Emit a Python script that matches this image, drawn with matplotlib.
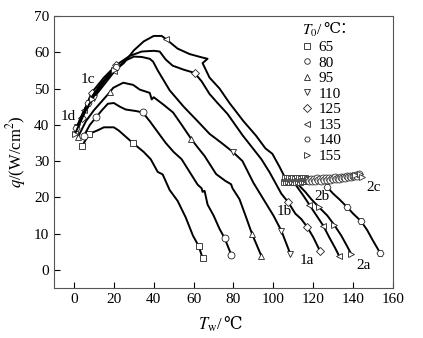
import numpy as np
import matplotlib
matplotlib.use('Agg')
import matplotlib.pyplot as plt

plt.rcParams['font.family'] = ['Liberation Serif', 'DejaVu Serif', 'Noto Sans CJK SC']
plt.rcParams['mathtext.fontset'] = 'stix'

# T0 = 65
x65 = [4, 7.7, 12, 15, 20, 22.5, 29.5, 35, 38.5, 42, 43.5, 44.5, 48, 52, 56, 59.7, 62.5, 64.5]
y65 = [34.1, 37.5, 38.5, 39.3, 39.3, 38.4, 35, 32.5, 30.5, 27, 26.6, 26.3, 22, 19, 14.5, 9.4, 6.6, 3.3]
m65 = [0, 1, 6, 16, 17]

# T0 = 80
x80 = [5, 8, 11.3, 14, 17, 20, 23, 26, 31, 34.5, 38, 42, 46, 50, 54, 58, 62, 64, 64.5, 65.5, 67, 70, 73, 75.5, 79]
y80 = [37, 40, 42.2, 44, 45.8, 46, 45, 44.2, 43.8, 43.4, 41, 38, 35, 32.5, 30.5, 27, 23.5, 22.5, 21.5, 21.8, 18, 15, 11.3, 8.8, 4]
m80 = [0, 2, 9, 23, 24]

# T0 = 95
x95 = [2, 6, 10, 14, 18, 19.7, 24.7, 29.7, 33, 38, 39, 40, 45, 49.7, 54, 58.8, 62, 65.5, 71.3, 76, 78.8, 79.5, 83, 86, 89.3, 94]
y95 = [36.6, 41, 44, 46.5, 49, 50.2, 51.6, 51, 49.7, 48.8, 47, 47.6, 45.5, 43.4, 40, 36.1, 33.8, 31.4, 26.4, 24.5, 23.6, 22.5, 19.5, 15, 9.9, 3.8]
m95 = [0, 4, 15, 24, 25]

# T0 = 110
x110 = [1.7, 5, 10, 15, 20, 25, 30, 34, 38, 39.7, 42, 48, 55, 62, 68, 74, 79.7, 84.5, 90, 95, 100, 104, 108.5]
y110 = [39.3, 43, 47.5, 51, 54.5, 57.5, 58.8, 58.7, 58.2, 57.4, 55, 49.5, 45, 41, 37.5, 35, 32.5, 30, 24, 19.5, 15, 10.8, 4.4]
m110 = [0, 2, 16, 21, 22]

# T0 = 125
x125 = [3.8, 8.8, 15, 21.3, 28, 34, 40, 43, 46, 49.5, 55, 60.5, 64, 68, 72, 77, 84.7, 89, 94, 98, 101, 104, 107.5, 111, 114, 117, 120, 123.3]
y125 = [42, 48.8, 53, 56.5, 59, 60.2, 60.4, 60.2, 58, 56.3, 55.2, 54.3, 52, 48.5, 46, 43, 37, 34, 30.5, 27, 24, 21, 18.6, 15.5, 14, 11.8, 9, 5.3]
m125 = [0, 1, 3, 11, 22, 25, 27]

# T0 = 135 (upper branch, runs into the plateau)
x135 = [0.5, 5, 10, 15, 20, 25, 30, 35, 40, 44, 46, 52, 58, 64, 67, 64.5, 68, 73, 78, 85, 91.3, 96, 99.5, 103, 105.5]
y135 = [38, 44, 48.5, 52, 54.8, 57, 60.5, 63, 64.5, 64.5, 63.7, 61, 59.5, 58.6, 58.2, 57, 53, 50, 46, 41, 37, 33.5, 32, 28.5, 25.8]
m135 = [0, 1, 4, 10]
# lower branch leaving the plateau
x135b = [111.5, 115, 118, 121, 125, 128, 131, 133]
y135b = [23.2, 20.5, 18, 15.5, 12.2, 9, 6, 3.8]
m135b = [2, 4, 7]

# T0 = 140
x140a = [1, 4, 7, 10, 13, 17, 21]
y140a = [39, 42.5, 46, 48.5, 51, 53.5, 55.8]
m140a = [0, 2, 6]
x140b = [127, 130, 133, 137, 140, 144, 147, 150, 153.5]
y140b = [22.8, 21, 19.5, 17.3, 15.5, 13.4, 11, 8, 4.7]
m140b = [0, 3, 5, 8]

# T0 = 155
x155a = [0.5, 3, 6, 9, 12, 16, 20]
y155a = [37.5, 40.5, 44, 47, 49.5, 52.5, 55]
m155a = [0, 3, 6]
x155b = [113, 116, 119, 123, 127, 130.5, 134, 137, 139]
y155b = [23.2, 21.5, 19.5, 17.2, 15, 12.4, 9.5, 6.5, 4.4]
m155b = [3, 5, 8]

# film boiling plateau (2c)
xsq = [105.5, 106, 106.5, 107, 107.5, 108, 108.5, 109, 109.5, 110, 110.5, 111, 111.5, 112, 112.5,
       113, 113.5, 114, 114.5, 115, 115.5, 116, 116.5, 117, 117.5]
ysq = [24.3, 25.4, 24.1, 25.2, 24.4, 25.3, 24.2, 25.1, 24.4, 25.3, 24.2, 25.0, 24.3, 25.3, 24.5,
       25.2, 24.3, 25.1, 24.5, 25.3, 24.4, 25.2, 24.6, 25.1, 24.7]
xci = [118, 118.8, 119.5, 120.3, 121, 121.8, 122.5, 123.3, 124, 124.8, 125.5, 126.3, 127, 127.8,
       128.5, 129.3, 130, 130.8, 131.5, 132.3, 133, 133.8, 134.5, 135.3, 136, 136.8, 137.5, 138.3,
       139, 139.8, 140.5, 141.3, 142, 142.8]
yci = [24.5, 25.1, 24.6, 25.0, 24.4, 25.2, 24.7, 25.1, 24.6, 25.3, 24.8, 25.2, 24.7, 25.4, 24.9,
       25.3, 25.0, 25.5, 25.0, 25.4, 25.1, 25.6, 25.2, 25.7, 25.3, 25.8, 25.5, 25.9, 25.6, 26.0,
       25.8, 26.1, 26.0, 26.3]
xtr = [141, 143.5, 144.5]
ytr = [26.2, 26.4, 25.7]

T0 = ['65', '80', '95', '110', '125', '135', '140', '155']
mk = ['s', 'o', '^', 'v', 'D', '<', 'H', '>']

fig = plt.figure(figsize=(4.23, 3.38), dpi=100)
ax = fig.add_axes([0.1277, 0.148, 0.8014, 0.8047])

lw = 1.4
ms = 5
mkw = dict(mfc='white', mec='#222222', mew=0.6, color='black', lw=lw, ms=ms)

ax.plot(x65, y65, marker='s', markevery=m65, **mkw)
ax.plot(x80, y80, marker='o', markevery=m80, **mkw)
ax.plot(x95, y95, marker='^', markevery=m95, **mkw)
ax.plot(x110, y110, marker='v', markevery=m110, **mkw)
ax.plot(x125, y125, marker='D', markevery=m125, **dict(mkw, ms=4.5))
ax.plot(x135, y135, marker='<', markevery=m135, **mkw)
ax.plot(x135b, y135b, marker='<', markevery=m135b, **mkw)
ax.plot(x140a, y140a, marker='H', markevery=m140a, **mkw)
ax.plot(x140b, y140b, marker='H', markevery=m140b, **mkw)
ax.plot(x155a, y155a, marker='>', markevery=m155a, **mkw)
ax.plot(x155b, y155b, marker='>', markevery=m155b, **mkw)

ax.plot(xsq, ysq, ls='none', marker='s', mfc='white', mec='#333333', mew=0.6, ms=ms)
ax.plot(xci, yci, ls='none', marker='o', mfc='white', mec='#333333', mew=0.6, ms=ms)
ax.plot(xtr, ytr, ls='none', marker='>', mfc='white', mec='#333333', mew=0.6, ms=ms)

# legend
handles = [ax.plot([], [], ls='none', marker=m, mfc='white', mec='#222222', mew=0.6, ms=4)[0] for m in mk]
leg = ax.legend(handles, T0, title='$T_0$/', loc='upper left', bbox_to_anchor=(0.70, 1.015),
                frameon=False, fontsize=11, title_fontsize=11, handlelength=0.6,
                handletextpad=0.5, labelspacing=0.12, borderpad=0.2)
leg._legend_box.align = 'left'
fig.canvas.draw()
tb = leg.get_title().get_window_extent()
# the math font has no ℃, so it goes in as plain text after T0/
fig.text(tb.x1 + 1, tb.y0 + 2.5, '℃：', fontsize=11, ha='left', va='bottom', transform=None)

labels = {'1a': (117, 2.6), '2a': (145, 1.2), '1b': (105.5, 16), '2b': (124.3, 20.1),
          '2c': (150.5, 22.7), '1c': (7.2, 52.4), '1d': (-2.8, 42.4)}
for k, (lx, ly) in labels.items():
    ax.text(lx, ly, k, ha='center', va='center', fontsize=11)

ax.set_xlim(-10, 160)
ax.set_ylim(-5, 70)
ax.set_xticks(np.arange(0, 161, 20))
ax.set_yticks(np.arange(0, 71, 10))
ax.tick_params(direction='in', length=4, width=0.8, labelsize=11, top=False, right=False)
for s in ax.spines.values():
    s.set_color('#555555')
    s.set_linewidth(0.8)

ax.set_ylabel(r'$q$/(W/cm$^2$)', fontsize=12, labelpad=4)
ax.text(0.5, -0.10, r'$T_{\rm w}$/', transform=ax.transAxes, fontsize=12, ha='right', va='top')
ax.text(0.5, -0.105, '℃', transform=ax.transAxes, fontsize=12, ha='left', va='top')

fig.savefig('out.png', dpi=100)
